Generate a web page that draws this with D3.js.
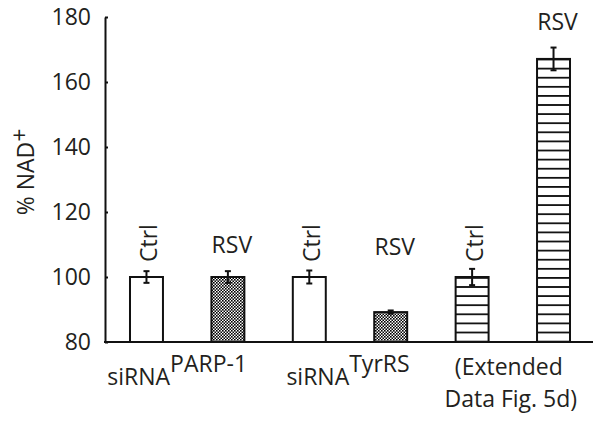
<!DOCTYPE html>
<html><head><meta charset="utf-8">
<script src="https://cdn.jsdelivr.net/npm/d3@7"></script>
<style>body{margin:0;background:#fff}svg{display:block}text{font-family:"Open Sans",sans-serif;fill:#231f20}</style>
</head><body><div id="chart"></div>
<script>
const categories = ["PARP-1 Ctrl","PARP-1 RSV","TyrRS Ctrl","TyrRS RSV","Ext Ctrl","Ext RSV"];
const barLabels = ["Ctrl","RSV","Ctrl","RSV","Ctrl","RSV"];
const values = [100, 100, 100, 89.2, 100, 167.1];
const errors = [1.8, 1.8, 2.0, 0.5, 2.5, 3.5];
const fills = ["white","checker","white","checker","stripe","stripe"];
const yTicks = [80, 100, 120, 140, 160, 180];
const groupLabels = [["siRNA","PARP-1"],["siRNA","TyrRS"],["(Extended","Data Fig. 5d)"]];

const W = 601, H = 422;
const svg = d3.select("#chart").append("svg").attr("width", W).attr("height", H);
const defs = svg.append("defs");
const chk = defs.append("pattern").attr("id","checker").attr("patternUnits","userSpaceOnUse").attr("width",3).attr("height",3);
chk.append("rect").attr("width",3).attr("height",3).attr("fill","#fff");
chk.append("rect").attr("width",1.6).attr("height",1.6).attr("fill","#000");
chk.append("rect").attr("x",1.5).attr("y",1.5).attr("width",1.6).attr("height",1.6).attr("fill","#000");
const str = defs.append("pattern").attr("id","stripe").attr("patternUnits","userSpaceOnUse").attr("width",10).attr("height",9.1).attr("y",4);
str.append("rect").attr("width",10).attr("height",9.1).attr("fill","#fff");
str.append("rect").attr("y",0).attr("width",10).attr("height",1.8).attr("fill","#111");

const y = d3.scaleLinear().domain([80,180]).range([342,17]);
const x = d3.scaleBand().domain(categories).range([105,595]).paddingInner(0.595).paddingOuter(0.307);

// bars
svg.selectAll("rect.bar").data(categories).enter().append("rect").attr("class","bar")
  .attr("x", d => x(d)).attr("width", x.bandwidth())
  .attr("y", (d,i) => y(values[i])).attr("height", (d,i) => y(80) - y(values[i]))
  .attr("fill", (d,i) => fills[i] === "white" ? "#fff" : `url(#${fills[i]})`)
  .attr("stroke","#111").attr("stroke-width",2);

// error bars
const eb = svg.selectAll("g.err").data(categories).enter().append("g").attr("class","err")
  .attr("transform", d => `translate(${x(d)+x.bandwidth()/2},0)`);
eb.append("line").attr("y1",(d,i)=>y(values[i]+errors[i])).attr("y2",(d,i)=>y(values[i]-errors[i])).attr("stroke","#111").attr("stroke-width",2);
eb.append("line").attr("x1",-3).attr("x2",3).attr("y1",(d,i)=>y(values[i]+errors[i])).attr("y2",(d,i)=>y(values[i]+errors[i])).attr("stroke","#111").attr("stroke-width",2);
eb.append("line").attr("x1",-3).attr("x2",3).attr("y1",(d,i)=>y(values[i]-errors[i])).attr("y2",(d,i)=>y(values[i]-errors[i])).attr("stroke","#111").attr("stroke-width",2);

// y axis
const yAxis = d3.axisLeft(y).tickValues(yTicks).tickSizeInner(-3).tickSizeOuter(0).tickPadding(14);
const ya = svg.append("g").attr("transform","translate(105,0)").call(yAxis);
ya.select(".domain").attr("stroke","#111").attr("stroke-width",2);
ya.selectAll(".tick line").attr("stroke","#111").attr("stroke-width",2);
ya.selectAll(".tick text").attr("font-size",23).attr("font-family","Open Sans").attr("fill","#231f20");

// x axis line
svg.append("line").attr("x1",104).attr("x2",593).attr("y1",y(80)).attr("y2",y(80)).attr("stroke","#111").attr("stroke-width",2);

// y label
const yl = svg.append("text").attr("transform","translate(34,172) rotate(-90)").attr("text-anchor","middle").attr("font-size",23);
yl.append("tspan").text("% NAD");
yl.append("tspan").attr("dy",-6).text("+");

// bar labels
categories.forEach((c,i) => {
  const cx = x(c) + x.bandwidth()/2;
  if (barLabels[i] === "Ctrl") {
    svg.append("text").attr("transform",`translate(${cx+11},262) rotate(-90)`).attr("font-size",23).text(barLabels[i]);
  } else {
    const top = y(values[i]+errors[i]);
    const by = Math.min(y(106.8), top - 18);
    svg.append("text").attr("x", cx+4).attr("y", by).attr("text-anchor","middle").attr("font-size",23).text(barLabels[i]);
  }
});

// group labels
[0,1].forEach(g => {
  const a = categories[g*2], b = categories[g*2+1];
  const mid = (x(a) + x(b) + x.bandwidth())/2;
  const t = svg.append("text").attr("x", g === 0 ? mid - 10 : mid - 2).attr("y",385).attr("text-anchor","middle").attr("font-size",23);
  t.append("tspan").text(groupLabels[g][0]);
  t.append("tspan").attr("dy",-13).text(groupLabels[g][1]);
});
{
  const a = categories[4], b = categories[5];
  const mid = (x(a) + x(b) + x.bandwidth())/2;
  svg.append("text").attr("x", mid-4).attr("y",375).attr("text-anchor","middle").attr("font-size",23).text(groupLabels[2][0]);
  svg.append("text").attr("x", mid-2).attr("y",407).attr("text-anchor","middle").attr("font-size",23).text(groupLabels[2][1]);
}
</script></body></html>
